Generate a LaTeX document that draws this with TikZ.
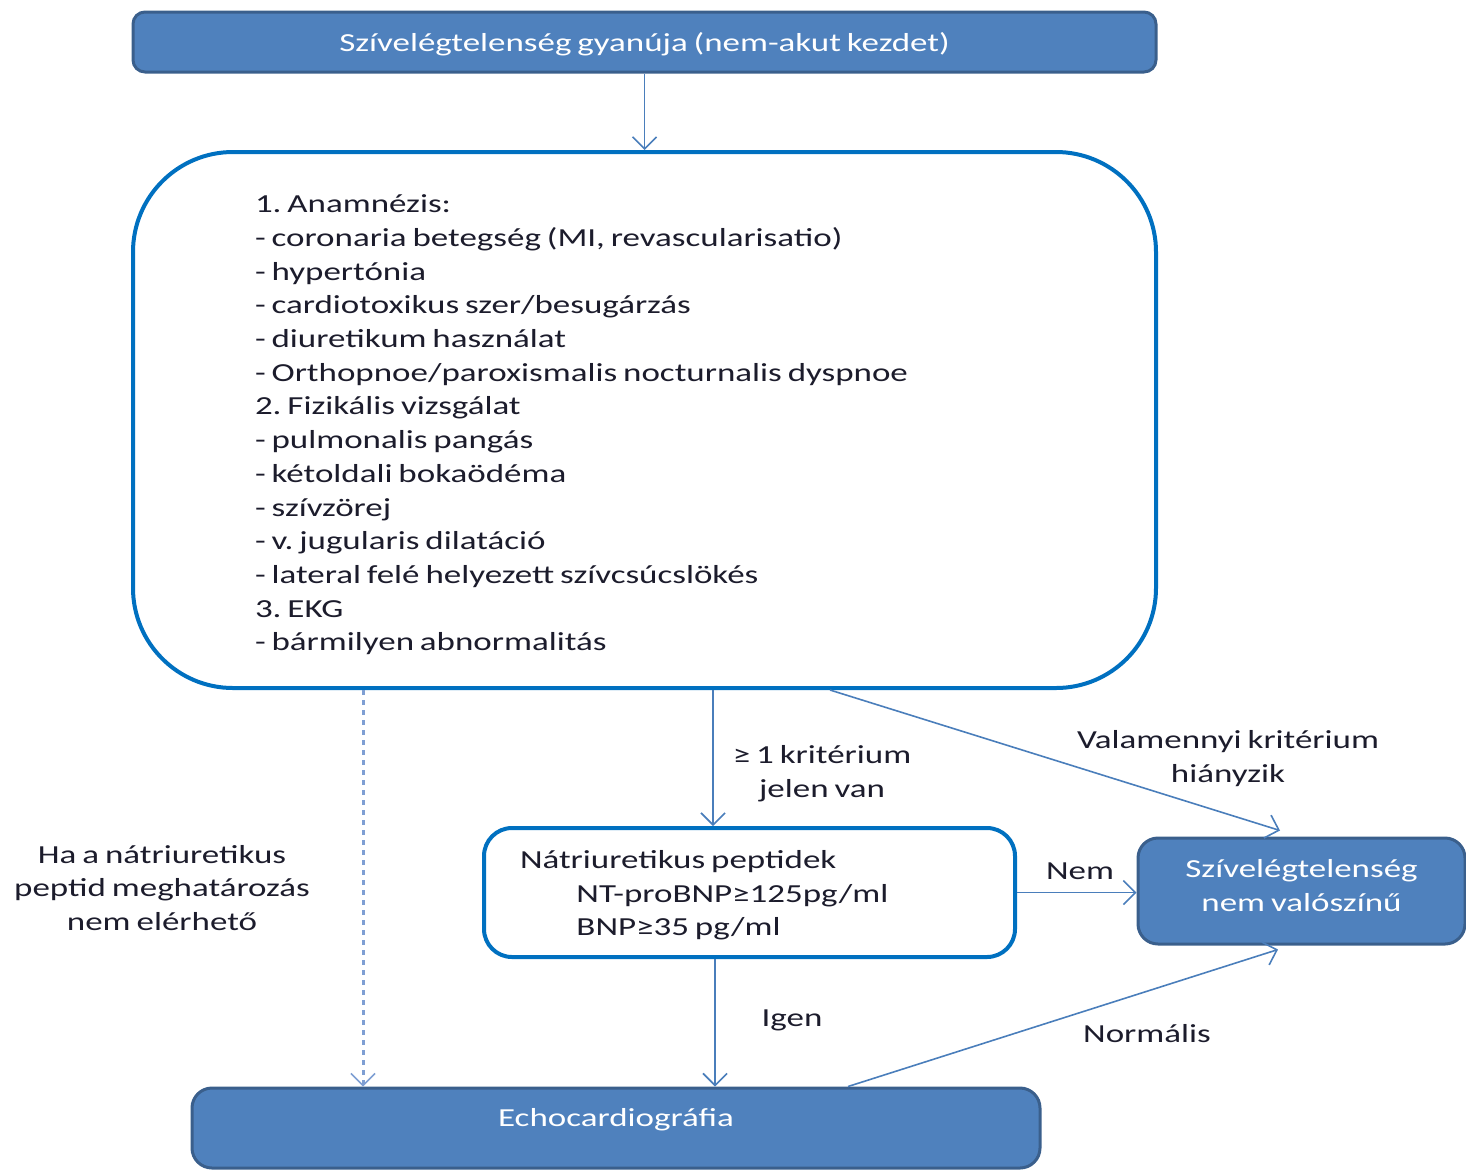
\documentclass[tikz,border=0pt]{standalone}
\usepackage{graphicx}
\usepackage{fontspec}
\setmainfont{Carlito}[WordSpace=0.75]
\usetikzlibrary{arrows.meta}

\definecolor{boxblue}{HTML}{4F81BD}
\definecolor{boxedge}{HTML}{3A5F8C}
\definecolor{frameblue}{HTML}{0070C0}
\definecolor{linkblue}{HTML}{4A7EBB}
\definecolor{dotblue}{HTML}{7F9FD3}
\definecolor{ink}{HTML}{1C1C2C}

% horizontally widened text and simple multi-line blocks
\newcommand\wide[1]{\scalebox{1.345}[1]{#1}}
\newcommand\lines[2]{\begin{tabular}{@{}#1@{}}#2\end{tabular}}
\newcommand\bodyfont{\fontsize{26}{33.7}\selectfont\frenchspacing}
\newcommand\dropby[2]{\raisebox{-#1}[\height][\depth]{#2}}
\newcommand\leftin[2]{\makebox[#1][l]{#2}}

\tikzset{
  filledbox/.style={draw=boxedge, line width=3pt, fill=boxblue, text=white,
    rounded corners=12pt, inner sep=0pt, font=\bodyfont},
  framebox/.style={draw=frameblue, line width=4pt, fill=white, text=ink,
    inner sep=0pt, font=\bodyfont},
  arr/.style={draw=linkblue, line width=1.6pt,
    -{Straight Barb[length=12pt,width=24pt,line width=1.6pt]}},
  dotarr/.style={draw=dotblue, line width=3pt, dash pattern=on 5pt off 5pt,
    -{Straight Barb[length=12pt,width=24pt,line width=1.6pt]}},
  lbl/.style={text=ink, inner sep=0pt, font=\bodyfont},
}

\begin{document}
\begin{tikzpicture}[x=1pt, y=-1pt]
\useasboundingbox (0,0) rectangle (1466,1171);

% boxes
\node[filledbox, minimum width=1023pt, minimum height=60pt] (top) at (644.5,42)
  {\dropby{2pt}{\wide{Szívelégtelenség gyanúja (nem-akut kezdet)}}};

\node[framebox, rounded corners=100pt, minimum width=1023pt, minimum height=536pt]
  (main) at (644.5,420)
  {\leftin{779pt}{\dropby{5pt}{\wide{\lines{l}{1. Anamnézis:\\
  - coronaria betegség (MI, revascularisatio)\\
  - hypertónia\\
  - cardiotoxikus szer/besugárzás\\
  - diuretikum használat\\
  - Orthopnoe/paroxismalis nocturnalis dyspnoe\\
  2. Fizikális vizsgálat\\
  - pulmonalis pangás\\
  - kétoldali bokaödéma\\
  - szívzörej\\
  - v. jugularis dilatáció\\
  - lateral felé helyezett szívcsúcslökés\\
  3. EKG\\
  - bármilyen abnormalitás}}}}};

\node[framebox, rounded corners=28pt, minimum width=531pt, minimum height=129pt]
  (nat) at (749.5,892.5)
  {\leftin{459pt}{\dropby{3pt}{\wide{\lines{l}{Nátriuretikus peptidek\\
  \hspace*{42pt}NT-proBNP≥125pg/ml\\
  \hspace*{42pt}BNP≥35 pg/ml}}}}};

\node[filledbox, rounded corners=20pt, minimum width=327pt, minimum height=106pt]
  (unlikely) at (1301.5,891)
  {\raisebox{-3pt}[0pt][0pt]{\wide{\lines{c}{Szívelégtelenség\\nem valószínű}}}};

\node[filledbox, rounded corners=20pt, minimum width=848pt, minimum height=80pt]
  (echo) at (616,1128)
  {\raisebox{2pt}[0pt][0pt]{\wide{Echocardiográfia}}};

% connectors
\draw[arr] (top.south) -- (main.north);
\draw[arr] ([xshift=68.5pt]main.south) -- ([xshift=68.5pt]main.south |- nat.north);
\draw[arr] ([xshift=185.5pt]main.south) -- ([xshift=-21.5pt,yshift=6pt]unlikely.north);
\draw[arr] (nat.east) -- (nat.east -| unlikely.west);
\draw[arr] ([xshift=-34.5pt]nat.south) -- ([xshift=-34.5pt]nat.south |- echo.north);
\draw[arr] ([xshift=232pt]echo.north) -- ([xshift=-23.5pt,yshift=-4pt]unlikely.south);
\draw[dotarr] ([xshift=-281.5pt]main.south) -- ([xshift=-281.5pt]main.south |- echo.north);

% connector labels
\node[lbl] (crit) at (822,774) {\wide{\lines{c}{≥ 1 kritérium\\jelen van}}};
\node[lbl] (none) at (1228,759) {\wide{\lines{c}{Valamennyi kritérium\\hiányzik}}};
\node[lbl] (no) at (1080,871) {\wide{Nem}};
\node[lbl] (yes) at (792,1020) {\wide{Igen}};
\node[lbl] (normal) at (1147,1034) {\wide{Normális}};
\node[lbl] (unavail) at (162,890)
  {\wide{\lines{c}{Ha a nátriuretikus\\peptid meghatározás\\nem elérhető}}};
\end{tikzpicture}
\end{document}
